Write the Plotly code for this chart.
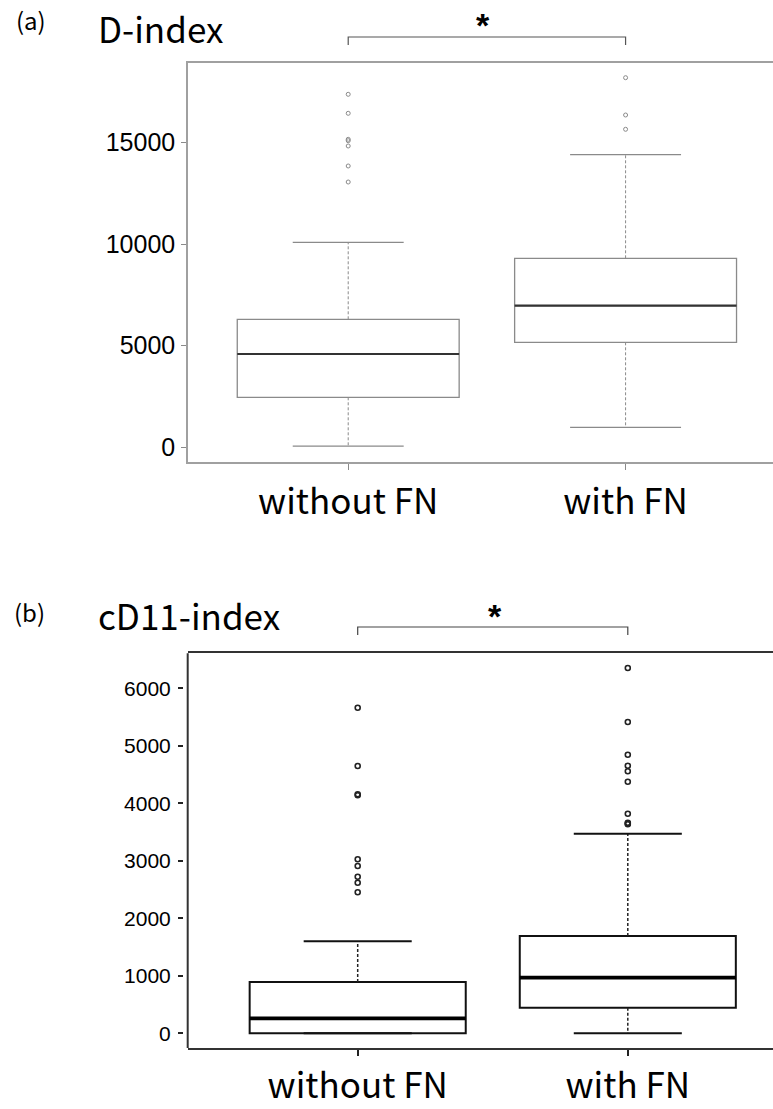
import plotly.graph_objects as go

W, H = 773, 1109

categories = ["without FN", "with FN"]
positions = [1, 2]

# (a) D-index box statistics
d_q1 = [2461, 5167]
d_med = [4592, 6969]
d_q3 = [6299, 9301]
d_lo = [60, 984]
d_hi = [10089, 14400]
d_out = [
    [17372, 16437, 15157, 15089, 14828, 13844, 13056],
    [18189, 16353, 15650],
]
d_ticks = [0, 5000, 10000, 15000]

# (b) cD11-index box statistics
c_q1 = [0, 446]
c_med = [261, 967]
c_q3 = [892, 1692]
c_lo = [0, 0]
c_hi = [1600, 3471]
c_out = [
    [5663, 4649, 4157, 4139, 3026, 2910, 2723, 2619, 2452],
    [6353, 5414, 4845, 4654, 4557, 4376, 3819, 3663, 3650, 3635],
]
c_ticks = [0, 1000, 2000, 3000, 4000, 5000, 6000]

BOX_W = 0.8
CAP_W = 0.4

fig = go.Figure()


def add_panel(xr, yr, q1, med, q3, lo, hi, outs, style):
    fig.add_trace(go.Box(
        x=positions, q1=q1, median=med, q3=q3, lowerfence=q1, upperfence=q3,
        width=BOX_W, whiskerwidth=0, boxpoints=False,
        fillcolor="white", line=dict(color=style["box"], width=style["boxw"]),
        xaxis=xr, yaxis=yr, showlegend=False, hoverinfo="skip",
    ))
    for i, p in enumerate(positions):
        # median
        fig.add_trace(go.Scatter(
            x=[p - BOX_W / 2, p + BOX_W / 2], y=[med[i], med[i]], mode="lines",
            line=dict(color=style["med"], width=style["medw"]),
            xaxis=xr, yaxis=yr, showlegend=False, hoverinfo="skip"))
        # whiskers (dashed)
        for a, b in ((q3[i], hi[i]), (q1[i], lo[i])):
            if a != b:
                fig.add_trace(go.Scatter(
                    x=[p, p], y=[a, b], mode="lines",
                    line=dict(color=style["wh"], width=style["whw"], dash=style["dash"]),
                    xaxis=xr, yaxis=yr, showlegend=False, hoverinfo="skip"))
        # caps
        for v in (hi[i], lo[i]):
            fig.add_trace(go.Scatter(
                x=[p - CAP_W / 2, p + CAP_W / 2], y=[v, v], mode="lines",
                line=dict(color=style["box"], width=style["boxw"]),
                xaxis=xr, yaxis=yr, showlegend=False, hoverinfo="skip"))
        # outliers
        fig.add_trace(go.Scatter(
            x=[p] * len(outs[i]), y=outs[i], mode="markers",
            marker=dict(symbol="circle-open", size=style["ms"], color=style["pt"],
                        line=dict(width=style["ptw"], color=style["pt"])),
            xaxis=xr, yaxis=yr, showlegend=False, hoverinfo="skip"))


style_a = dict(box="#8a8a8a", boxw=1.3, med="#333333", medw=2.2, wh="#8a8a8a",
               whw=1, dash="3px,2px", ms=4, pt="#8a8a8a", ptw=1)
style_b = dict(box="#111111", boxw=2, med="#000000", medw=3.8, wh="#222222",
               whw=1.5, dash="3px,2px", ms=5, pt="#222222", ptw=1.6)

add_panel("x", "y", d_q1, d_med, d_q3, d_lo, d_hi, d_out, style_a)
add_panel("x2", "y2", c_q1, c_med, c_q3, c_lo, c_hi, c_out, style_b)

num_font = dict(family="Liberation Sans, Arial, sans-serif", color="black")
lab_font = dict(family="Noto Sans CJK JP, sans-serif", size=35, color="black")

fig.update_layout(
    width=W, height=H, margin=dict(l=0, r=0, t=0, b=0, autoexpand=False),
    plot_bgcolor="white", paper_bgcolor="white", showlegend=False,
    xaxis=dict(domain=[188 / W, 1], range=[0.4224, 2.5315], automargin=False,
               tickvals=positions, ticktext=categories, tickfont=lab_font,
               ticks="outside", ticklen=6, tickcolor="#8a8a8a", tickwidth=1,
               ticklabelstandoff=2,
               showline=True, linecolor="#a0a0a0", linewidth=1.5, mirror=True,
               showgrid=False, zeroline=False, anchor="y"),
    yaxis=dict(domain=[1 - 462 / H, 1 - 62.7 / H], range=[-723, 18927], automargin=False,
               tickvals=d_ticks, ticktext=[str(v) for v in d_ticks],
               tickfont=dict(size=25, **num_font), ticklabelstandoff=1,
               ticks="outside", ticklen=5, tickcolor="#8a8a8a",
               showline=True, linecolor="#a0a0a0", linewidth=1.5,
               showgrid=False, zeroline=False, anchor="x"),
    xaxis2=dict(domain=[187.7 / W, 1], range=[0.3706, 2.5376], automargin=False,
                tickvals=positions, ticktext=categories, tickfont=lab_font,
                ticks="outside", ticklen=6, tickcolor="#222222", tickwidth=1.5,
                ticklabelstandoff=0,
                showline=True, linecolor="#333333", linewidth=2, mirror=True,
                showgrid=False, zeroline=False, anchor="y2"),
    yaxis2=dict(domain=[1 - 1048 / H, 1 - 653.3 / H], range=[-256, 6609], automargin=False,
                tickvals=c_ticks, ticktext=[str(v) for v in c_ticks],
                tickfont=dict(size=21, **num_font), ticklabelstandoff=3,
                ticks="outside", ticklen=5, tickcolor="#222222", tickwidth=1.5,
                showline=False, anchor="free", position=183 / W,
                showgrid=False, zeroline=False),
)

# left frame line of panel (b) (axis itself sits slightly left, with a gap)
fig.add_shape(type="line", xref="x2 domain", yref="y2 domain", x0=0, x1=0, y0=0, y1=1,
              line=dict(color="#333333", width=2))

# significance brackets
for xr, ytop, ybot, col, lw in (("x", 1 - 37 / H, 1 - 45 / H, "#555555", 1.2),
                                ("x2", 1 - 627 / H, 1 - 635 / H, "#444444", 1.2)):
    fig.add_shape(type="path", xref=xr, yref="paper",
                  path=f"M {positions[0]},{ybot} L {positions[0]},{ytop} L {positions[1]},{ytop} L {positions[1]},{ybot}",
                  line=dict(color=col, width=lw))

ann = [
    ("(a)", 31, 0, 24, "center", "top"),
    ("D-index", 96, 0, 35, "left", "top"),
    ("(b)", 30, 611, 24, "center", "middle"),
    ("cD11-index", 96, 614, 35, "left", "middle"),
]
for txt, x, y, s, xa, ya in ann:
    fig.add_annotation(text=txt, x=x / W, y=1 - y / H, xref="paper", yref="paper",
                       xanchor=xa, yanchor=ya, showarrow=False,
                       font=dict(family="Noto Sans CJK JP, sans-serif", size=s, color="black"))

for x, y in ((483, 25), (495, 616)):
    fig.add_annotation(text="<b>*</b>", x=x / W, y=1 - y / H, xref="paper", yref="paper",
                       xanchor="center", yanchor="middle", showarrow=False,
                       font=dict(family="Liberation Sans, Arial, sans-serif", size=34, color="black"))

fig.write_html(
    "out.html",
    config={"displayModeBar": False},
    post_script="document.body.style.margin='0px';document.body.style.overflow='hidden';",
)
